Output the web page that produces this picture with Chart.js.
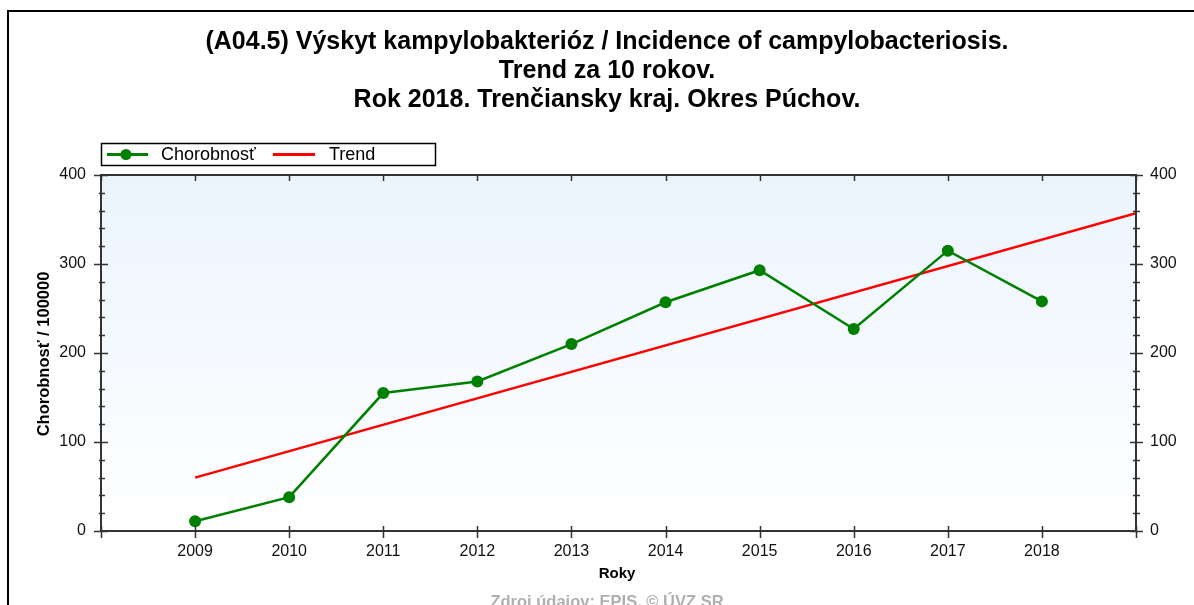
<!DOCTYPE html>
<html>
<head>
<meta charset="utf-8">
<script src="https://cdn.jsdelivr.net/npm/chart.js@4"></script>
<style>
  html, body { margin: 0; padding: 0; background: #fff; }
  #wrap { width: 1194px; height: 605px; position: relative; }
</style>
</head>
<body>
<div id="wrap"><canvas id="myChart" width="1194" height="605"></canvas></div>
<script>
const years = [2009, 2010, 2011, 2012, 2013, 2014, 2015, 2016, 2017, 2018];
const chorobnost = [11, 38, 155, 168, 210, 257, 293, 227, 315, 258];
const trendYears = [2009, 2019];
const trendValues = [60, 357];
const yTicks = [0, 100, 200, 300, 400];
const titleLines = [
  "(A04.5) Výskyt kampylobakterióz / Incidence of campylobacteriosis.",
  "Trend za 10 rokov.",
  "Rok 2018. Trenčiansky kraj. Okres Púchov."
];
const FONT = "'Liberation Sans', Arial, sans-serif";

const decor = {
  id: "decor",
  beforeDraw(chart) {
    const { ctx, chartArea: a } = chart;
    ctx.save();
    ctx.fillStyle = "#fff";
    ctx.fillRect(0, 0, chart.width, chart.height);
    const g = ctx.createLinearGradient(0, a.top, 0, a.bottom);
    g.addColorStop(0, "#ebf4fd");
    g.addColorStop(1, "#ffffff");
    ctx.fillStyle = g;
    ctx.fillRect(a.left, a.top, a.right - a.left, a.bottom - a.top);
    // outer frame
    ctx.strokeStyle = "#000";
    ctx.lineWidth = 2;
    ctx.strokeRect(8, 11, 1300, 800);
    // title
    ctx.fillStyle = "#000";
    ctx.font = "bold 25px " + FONT;
    ctx.textAlign = "center";
    ctx.textBaseline = "middle";
    titleLines.forEach((t, i) => ctx.fillText(t, 607, 42 + i * 29));
    ctx.restore();
  },
  afterDraw(chart) {
    const { ctx, chartArea: a, scales } = chart;
    const x = scales.x, y = scales.y;
    ctx.save();
    ctx.strokeStyle = "#333";
    ctx.lineWidth = 2;
    ctx.strokeRect(a.left, a.top, a.right - a.left, a.bottom - a.top);
    ctx.lineWidth = 1.5;
    ctx.beginPath();
    for (let v = 0; v <= 400; v += 20) {
      const py = Math.round(y.getPixelForValue(v)) + 0.5;
      const major = v % 100 === 0;
      if (major) {
        ctx.moveTo(a.left - 7, py); ctx.lineTo(a.left + 7, py);
        ctx.moveTo(a.right - 6, py); ctx.lineTo(a.right + 7, py);
      } else {
        ctx.moveTo(a.left - 2, py); ctx.lineTo(a.left + 4, py);
        ctx.moveTo(a.right - 3, py); ctx.lineTo(a.right + 4, py);
      }
    }
    for (let v = 2008; v <= 2019; v++) {
      const px = Math.round(x.getPixelForValue(v)) + 0.5;
      ctx.moveTo(px, a.bottom - 5); ctx.lineTo(px, a.bottom + 7);
      ctx.moveTo(px, a.top); ctx.lineTo(px, a.top + 6);
    }
    ctx.stroke();

    // axis titles
    ctx.fillStyle = "#000";
    ctx.font = "bold 15px " + FONT;
    ctx.textAlign = "center";
    ctx.textBaseline = "middle";
    ctx.fillText("Roky", 617, 574);
    ctx.save();
    ctx.translate(44, 354);
    ctx.rotate(-Math.PI / 2);
    ctx.font = "bold 16.5px " + FONT;
    ctx.fillText("Chorobnosť / 100000", 0, 0);
    ctx.restore();

    // footer
    ctx.fillStyle = "#b0b0b0";
    ctx.font = "bold 16.5px " + FONT;
    ctx.fillText("Zdroj údajov: EPIS, © ÚVZ SR", 607, 602);

    // legend
    ctx.fillStyle = "#fff";
    ctx.fillRect(101, 143, 334, 22);
    ctx.strokeStyle = "#000";
    ctx.lineWidth = 1.5;
    ctx.strokeRect(101.5, 143.5, 334, 22);
    ctx.lineWidth = 3;
    ctx.strokeStyle = "#008000";
    ctx.beginPath(); ctx.moveTo(107, 154.5); ctx.lineTo(148, 154.5); ctx.stroke();
    ctx.fillStyle = "#008000";
    ctx.beginPath(); ctx.arc(126, 154.5, 5.5, 0, Math.PI * 2); ctx.fill();
    ctx.strokeStyle = "#ff0000";
    ctx.beginPath(); ctx.moveTo(273, 154.5); ctx.lineTo(315, 154.5); ctx.stroke();
    ctx.fillStyle = "#000";
    ctx.font = "18px " + FONT;
    ctx.textAlign = "left";
    ctx.fillText("Chorobnosť", 161, 155);
    ctx.fillText("Trend", 329, 155);
    ctx.restore();
  }
};

const ctx = document.getElementById("myChart").getContext("2d");
new Chart(ctx, {
  type: "line",
  data: {
    datasets: [
      {
        label: "Trend",
        data: trendYears.map((yr, i) => ({ x: yr, y: trendValues[i] })),
        borderColor: "#ff0000",
        borderWidth: 2.5,
        pointRadius: 0,
        order: 2
      },
      {
        label: "Chorobnosť",
        data: years.map((yr, i) => ({ x: yr, y: chorobnost[i] })),
        borderColor: "#008000",
        backgroundColor: "#008000",
        borderWidth: 2.5,
        pointRadius: 6,
        pointBorderWidth: 0,
        order: 1
      }
    ]
  },
  options: {
    responsive: false,
    animation: false,
    layout: { padding: { top: 175, left: 0, right: 0, bottom: 0 } },
    plugins: { legend: { display: false }, title: { display: false }, tooltip: { enabled: false } },
    scales: {
      x: {
        type: "linear",
        min: 2008,
        max: 2019,
        afterFit: s => { s.height = 74; },
        afterBuildTicks: s => { s.ticks = years.map(v => ({ value: v })); },
        ticks: { color: "#111", font: { family: FONT, size: 16 }, padding: 3, maxRotation: 0, callback: v => String(v) },
        grid: { display: false },
        border: { display: false }
      },
      y: {
        position: "left",
        min: 0,
        max: 400,
        afterFit: s => { s.width = 101; },
        afterBuildTicks: s => { s.ticks = yTicks.map(v => ({ value: v })); },
        ticks: { color: "#111", font: { family: FONT, size: 16 }, padding: 7 },
        grid: { display: false },
        border: { display: false }
      },
      y2: {
        position: "right",
        min: 0,
        max: 400,
        afterFit: s => { s.width = 58; },
        afterBuildTicks: s => { s.ticks = yTicks.map(v => ({ value: v })); },
        ticks: { color: "#111", font: { family: FONT, size: 16 }, padding: 6 },
        grid: { display: false },
        border: { display: false }
      }
    }
  },
  plugins: [decor]
});
</script>
</body>
</html>
